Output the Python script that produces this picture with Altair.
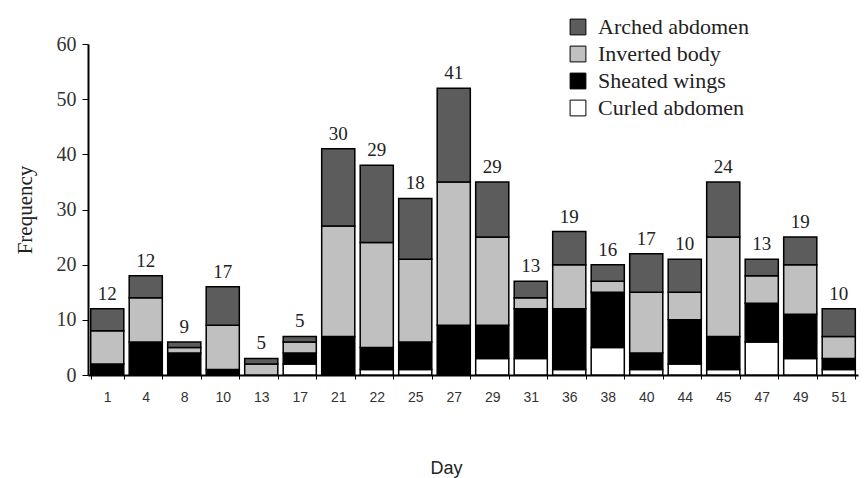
import altair as alt
import pandas as pd

# Observation days and behaviour counts per day
days = [1, 4, 8, 10, 13, 17, 21, 22, 25, 27, 29, 31, 36, 38, 40, 44, 45, 47, 49, 51]
curled = [0, 0, 0, 0, 0, 2, 0, 1, 1, 0, 3, 3, 1, 5, 1, 2, 1, 6, 3, 1]
sheathed = [2, 6, 4, 1, 0, 2, 7, 4, 5, 9, 6, 9, 11, 10, 3, 8, 6, 7, 8, 2]
inverted = [6, 8, 1, 8, 2, 2, 20, 19, 15, 26, 16, 2, 8, 2, 11, 5, 18, 5, 9, 4]
arched = [4, 4, 1, 7, 1, 1, 14, 14, 11, 17, 10, 3, 6, 3, 7, 6, 10, 3, 5, 5]
# Numbers printed above each bar
top_labels = [12, 12, 9, 17, 5, 5, 30, 29, 18, 41, 29, 13, 19, 16, 17, 10, 24, 13, 19, 10]

behaviours = ["Arched abdomen", "Inverted body", "Sheated wings", "Curled abdomen"]
colors = ["#5c5c5c", "#c0c0c0", "#000000", "#ffffff"]
series = {
    "Curled abdomen": (curled, 0),
    "Sheated wings": (sheathed, 1),
    "Inverted body": (inverted, 2),
    "Arched abdomen": (arched, 3),
}

rows = []
for name, (vals, rank) in series.items():
    for d, v in zip(days, vals):
        rows.append({"Day": str(d), "Behaviour": name, "Count": v, "rank": rank})
df = pd.DataFrame(rows)

totals = [c + s + i + a for c, s, i, a in zip(curled, sheathed, inverted, arched)]
lab_df = pd.DataFrame({"Day": [str(d) for d in days], "Total": totals, "Label": top_labels})

day_order = [str(d) for d in days]
serif = "Liberation Serif"
sans = "Liberation Sans"
x_enc = alt.X(
    "Day:N",
    sort=day_order,
    scale=alt.Scale(paddingInner=0.14, paddingOuter=0.07),
    axis=alt.Axis(
        title="Day", labelAngle=0, tickBand="extent", tickSize=4, tickColor="#000",
        domainColor="#000", domainWidth=2, labelFont=sans,
        labelFontSize=14, labelColor="#333", labelPadding=11,
        titleFont=sans, titleFontSize=18, titleFontWeight="normal",
        titleColor="#222", titleX=358, titleY=93, titleBaseline="middle",
    ),
)

bars = alt.Chart(df).mark_bar(stroke="black", strokeWidth=1.5).encode(
    x=x_enc,
    y=alt.Y(
        "sum(Count):Q",
        scale=alt.Scale(domain=[0, 60], nice=False),
        axis=alt.Axis(
            title="Frequency", values=[0, 10, 20, 30, 40, 50, 60], grid=False,
            tickSize=6, tickColor="#000", domainColor="#000", domainWidth=2,
            labelFont=serif, labelFontSize=20, labelColor="#333", labelPadding=6,
            titleFont=serif, titleFontSize=21, titleFontWeight="normal",
            titleColor="#222", titlePadding=21,
        ),
    ),
    color=alt.Color(
        "Behaviour:N",
        scale=alt.Scale(domain=behaviours, range=colors),
        legend=alt.Legend(
            title=None, orient="none", legendX=479, legendY=-28,
            symbolType="square", symbolSize=250, symbolStrokeColor="black",
            symbolStrokeWidth=1, labelFont=serif, labelFontSize=22,
            labelColor="#222", rowPadding=5, labelOffset=9,
        ),
    ),
    order=alt.Order("rank:Q", sort="ascending"),
)

texts = alt.Chart(lab_df).mark_text(
    font=serif, fontSize=19, color="#222", baseline="alphabetic", dy=-9
).encode(
    x=alt.X("Day:N", sort=day_order),
    y=alt.Y("Total:Q"),
    text="Label:Q",
)

chart = (
    alt.layer(bars, texts)
    .properties(
        width=770, height=331,
        padding={"left": 88, "top": 44, "right": 7, "bottom": 103},
        autosize=alt.AutoSizeParams(type="none"),
    )
    .configure_view(stroke=None)
)

chart.save("out.html", embed_options={"renderer": "svg", "actions": False})
